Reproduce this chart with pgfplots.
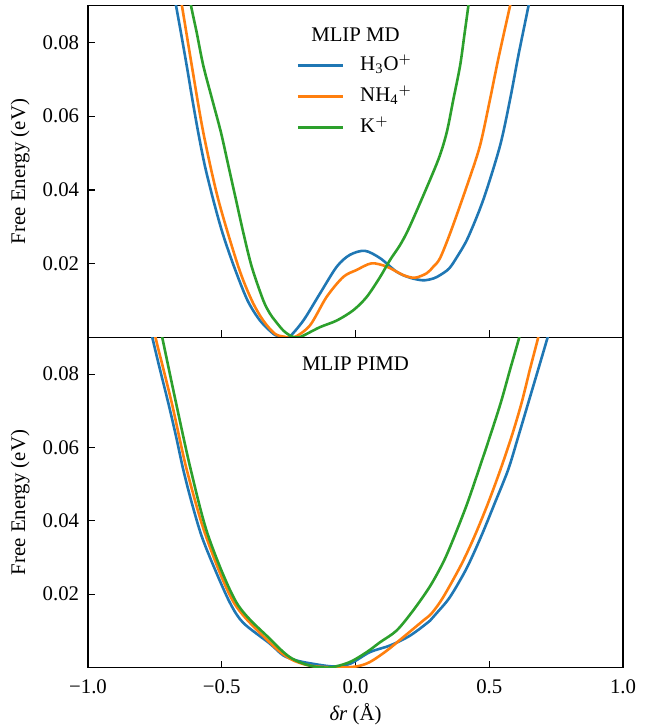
\documentclass[border=0pt]{standalone}
\usepackage{fontspec}
\setmainfont{Liberation Serif}
\usepackage{pgfplots}
\pgfplotsset{compat=1.18}
\definecolor{cblue}{HTML}{1F77B4}
\definecolor{corange}{HTML}{FF7F0E}
\definecolor{cgreen}{HTML}{2CA02C}
\begin{document}
\begin{tikzpicture}[font=\fontsize{10.4}{12.5}\selectfont]
\path[use as bounding box] (0,0) rectangle (325pt,363pt);
\pgfplotsset{
  myaxis/.style={
    scale only axis, width=267.5pt,
    xmin=-1, xmax=1, ymin=0, ymax=0.09,
    tick align=inside, xtick pos=bottom, ytick pos=left,
    major tick length=3.5pt,
    axis line style={line width=0.65pt},
    every tick/.style={line width=0.65pt, black},
    xtick={-1,-0.5,0,0.5,1},
    ytick={0.02,0.04,0.06,0.08},
    yticklabels={0.02,0.04,0.06,0.08},
    scaled y ticks=false, scaled x ticks=false,
    xticklabel shift=2.3pt, yticklabel shift=0.9pt,
    ylabel={Free Energy (eV)},
    ylabel style={at={(axis description cs:-0.127,0.5)}, anchor=center},
    every axis plot/.append style={line width=1.3pt, line join=round, mark=none, smooth, tension=0.5},
  }
}
% ---------------- top panel ----------------
\begin{axis}[myaxis, at={(44pt,194.25pt)}, anchor=south west, height=166pt,
  xticklabels={},
  legend style={draw=none, fill=none, at={(axis description cs:0.378,0.878)}, anchor=north west,
    legend cell align=left, row sep=0.5pt,
    nodes={text height=8pt, text depth=3pt, inner sep=2pt},
    /tikz/every odd column/.append style={column sep=6pt}},
  legend image code/.code={\draw[#1] (0pt,0pt) -- (22.5pt,0pt);},
]
\addplot[cblue] coordinates {
(-0.684,0.095) (-0.671,0.0900) (-0.653,0.0828) (-0.631,0.0737) (-0.610,0.0646)
(-0.588,0.0556) (-0.563,0.0465) (-0.532,0.0374) (-0.497,0.0283) (-0.454,0.0192)
(-0.404,0.0101) (-0.357,0.0046) (-0.307,0.0010) (-0.280,0.0002) (-0.250,0.0000)
(-0.195,0.0046) (-0.133,0.0119) (-0.070,0.0192) (-0.021,0.0224) (0.035,0.0235)
(0.092,0.0215) (0.154,0.0178) (0.204,0.0162) (0.253,0.0155) (0.291,0.0160)
(0.316,0.0169) (0.350,0.0187) (0.380,0.0219) (0.420,0.0270) (0.478,0.0374)
(0.540,0.0519) (0.578,0.0646) (0.609,0.0765) (0.647,0.0900) (0.660,0.095)
};
\addlegendentry{H\textsubscript{3}O$^{+}$}
\addplot[corange] coordinates {
(-0.662,0.095) (-0.649,0.0900) (-0.612,0.0737) (-0.569,0.0556) (-0.513,0.0374)
(-0.438,0.0192) (-0.388,0.0101) (-0.345,0.0046) (-0.301,0.0010) (-0.265,0.0002)
(-0.230,0.0000) (-0.170,0.0033) (-0.108,0.0110) (-0.046,0.0164) (0.004,0.0183)
(0.060,0.0201) (0.117,0.0192) (0.179,0.0169) (0.222,0.0162) (0.266,0.0174)
(0.291,0.0192) (0.316,0.0215) (0.356,0.0287) (0.416,0.0410) (0.465,0.0519)
(0.503,0.0646) (0.534,0.0756) (0.578,0.0900) (0.593,0.095)
};
\addlegendentry{NH\textsubscript{4}$^{+}$}
\addplot[cgreen] coordinates {
(-0.625,0.095) (-0.615,0.0900) (-0.594,0.0828) (-0.569,0.0737) (-0.536,0.0646)
(-0.503,0.0556) (-0.475,0.0465) (-0.447,0.0374) (-0.419,0.0283) (-0.388,0.0192)
(-0.345,0.0101) (-0.320,0.0065) (-0.301,0.0046) (-0.270,0.0019) (-0.239,0.0003)
(-0.215,0.0000) (-0.195,0.0005) (-0.133,0.0028) (-0.070,0.0046) (-0.008,0.0074)
(0.042,0.0110) (0.092,0.0164) (0.129,0.0210) (0.166,0.0250) (0.197,0.0292)
(0.247,0.0374) (0.310,0.0483) (0.341,0.0556) (0.366,0.0646) (0.391,0.0737)
(0.407,0.0820) (0.422,0.0900) (0.430,0.095)
};
\addlegendentry{K$^{+}$}
\node[anchor=base] at (axis description cs:0.5,0.892) {MLIP MD};
\end{axis}
% ---------------- bottom panel ----------------
\begin{axis}[myaxis, at={(44pt,29.25pt)}, anchor=south west, height=165pt,
  xticklabels={−1.0,−0.5,0.0,0.5,1.0},
  xlabel={\textit{δr} (Å)},
  xlabel style={at={(axis description cs:0.5,0)}, anchor=base, yshift=-26.5pt},
]
\addplot[cblue] coordinates {
(-0.765,0.092) (-0.758,0.0895) (-0.731,0.0813) (-0.700,0.0722) (-0.671,0.0631)
(-0.644,0.0540) (-0.612,0.0449) (-0.575,0.0358) (-0.525,0.0267) (-0.469,0.0176)
(-0.420,0.0122) (-0.320,0.0065) (-0.270,0.0033) (-0.220,0.0019) (-0.158,0.0010)
(-0.084,0.0003) (-0.021,0.0010) (0.054,0.0042) (0.129,0.0060) (0.204,0.0087)
(0.279,0.0128) (0.303,0.0148) (0.353,0.0192) (0.415,0.0270) (0.470,0.0358)
(0.521,0.0449) (0.571,0.0540) (0.609,0.0631) (0.646,0.0722) (0.683,0.0813)
(0.718,0.0900) (0.728,0.093)
};
\addplot[corange] coordinates {
(-0.752,0.092) (-0.746,0.0895) (-0.687,0.0722) (-0.631,0.0540) (-0.559,0.0358)
(-0.454,0.0176) (-0.320,0.0068) (-0.245,0.0024) (-0.170,0.0005) (-0.070,0.0000)
(0.004,0.0003) (0.054,0.0015) (0.117,0.0046) (0.179,0.0083) (0.253,0.0128)
(0.285,0.0148) (0.328,0.0192) (0.395,0.0280) (0.445,0.0358) (0.496,0.0449)
(0.542,0.0540) (0.584,0.0631) (0.621,0.0722) (0.652,0.0813) (0.683,0.0900)
(0.692,0.093)
};
\addplot[cgreen] coordinates {
(-0.728,0.092) (-0.721,0.0895) (-0.671,0.0722) (-0.616,0.0540) (-0.550,0.0358)
(-0.444,0.0176) (-0.320,0.0078) (-0.245,0.0028) (-0.170,0.0005) (-0.095,0.0000)
(-0.021,0.0015) (0.042,0.0042) (0.092,0.0069) (0.154,0.0101) (0.216,0.0156)
(0.279,0.0222) (0.330,0.0290) (0.370,0.0358) (0.416,0.0444) (0.459,0.0535)
(0.503,0.0631) (0.543,0.0722) (0.578,0.0813) (0.612,0.0900) (0.620,0.093)
};
\node[anchor=base] at (axis description cs:0.5,0.901) {MLIP PIMD};
\end{axis}
\end{tikzpicture}
\end{document}
